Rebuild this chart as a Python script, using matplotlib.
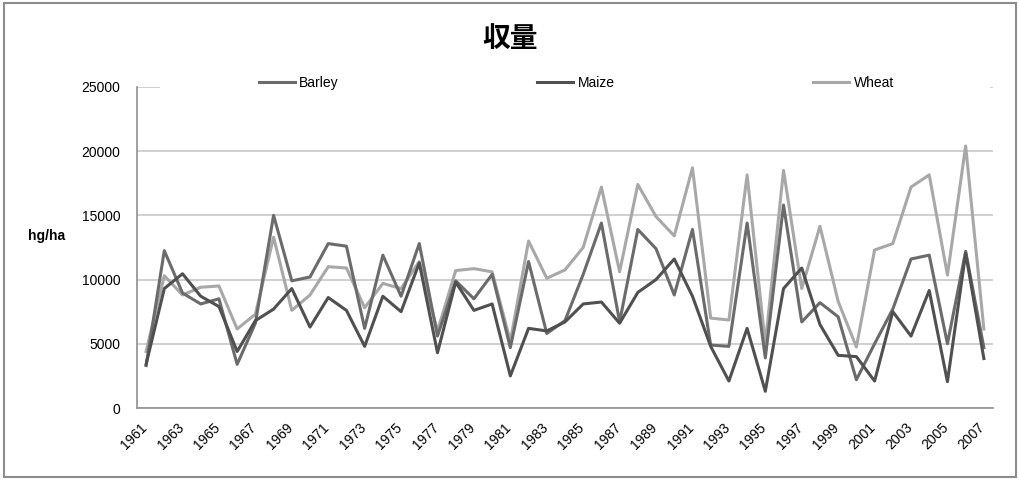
import matplotlib
matplotlib.use('Agg')
import matplotlib.pyplot as plt
import matplotlib.transforms as mtransforms
from matplotlib.patches import Rectangle

plt.rcParams['font.family'] = ['Liberation Sans', 'DejaVu Sans']

years = list(range(1961, 2008))

barley = [3300, 12250, 8950, 8100, 8500, 3400, 6600, 15000, 9900, 10200,
          12800, 12600, 6200, 11900, 8700, 12800, 5600, 9900, 8500, 10400,
          4700, 11400, 5800, 6800, 10400, 14400, 6700, 13900, 12400, 8800,
          13900, 4900, 4800, 14400, 3900, 15800, 6700, 8200, 7100, 2200,
          5000, 7700, 11600, 11900, 5000, 12200, 4700]

maize = [3400, 9300, 10450, 8700, 7900, 4400, 6800, 7700, 9300, 6300,
         8600, 7600, 4800, 8700, 7500, 11300, 4300, 9800, 7600, 8100,
         2500, 6200, 6000, 6700, 8100, 8250, 6600, 9000, 10000, 11600,
         8700, 4800, 2100, 6200, 1300, 9300, 10900, 6500, 4100, 4000,
         2100, 7500, 5600, 9150, 2050, 12050, 3850]

wheat = [4400, 10300, 8800, 9400, 9500, 6150, 7300, 13300, 7600, 8800,
         11000, 10900, 7800, 9700, 9300, 11400, 6000, 10700, 10850, 10600,
         5200, 13000, 10100, 10750, 12500, 17200, 10600, 17400, 14900, 13400,
         18700, 7000, 6850, 18150, 5000, 18500, 9300, 14150, 8300, 4750,
         12300, 12800, 17200, 18150, 10350, 20400, 6150]

yticks = [0, 5000, 10000, 15000, 20000, 25000]

fig = plt.figure(figsize=(10.2, 4.8), dpi=100)
ax = fig.add_axes([0.1343, 0.15, 0.8392, 0.669])

x = list(range(len(years)))
ax.plot(x, barley, color='#6b6b6b', lw=2.2, label='Barley', zorder=3)
ax.plot(x, maize, color='#505050', lw=2.2, label='Maize', zorder=3)
ax.plot(x, wheat, color='#a8a8a8', lw=2.2, label='Wheat', zorder=2)

ax.set_xlim(-0.5, len(years) - 0.5)
ax.set_ylim(0, 25000)
ax.set_yticks(yticks)
ax.set_yticklabels([str(v) for v in yticks], fontsize=10)
ax.yaxis.grid(True, color='#c8c8c8', lw=1.2)
ax.set_axisbelow(True)

ax.set_xticks(x[::2])
ax.set_xticklabels([str(y) for y in years[::2]], rotation=45, ha='right',
                   rotation_mode='anchor', fontsize=10)
ax.tick_params(axis='x', length=0, pad=9)
ax.tick_params(axis='y', length=0, pad=12)
# nudge the rotated year labels a little to the left
shift = mtransforms.ScaledTranslation(-6 / 100, 0, fig.dpi_scale_trans)
for lab in ax.get_xticklabels():
    lab.set_transform(lab.get_transform() + shift)

for s in ['top', 'right']:
    ax.spines[s].set_visible(False)
ax.spines['left'].set_color('#909090')
ax.spines['bottom'].set_color('#909090')
ax.spines['left'].set_linewidth(1.2)
ax.spines['bottom'].set_linewidth(1.2)

ax.set_ylabel('hg/ha', rotation=0, fontsize=10, fontweight='bold', labelpad=0)
ax.yaxis.set_label_coords(-0.106, 0.515)

# white band behind the legend, as in the original (hides the top gridline)
ax.add_patch(Rectangle((160 / 1020, 1 - 95 / 480), 830 / 1020, 16 / 480,
                       transform=fig.transFigure, facecolor='white',
                       edgecolor='none', zorder=2.5, clip_on=False))

leg = fig.legend(loc='center', bbox_to_anchor=(0.565, 0.827), ncol=3,
                 frameon=True, fontsize=10, handlelength=2.6, handletextpad=0.3,
                 columnspacing=14.3, borderpad=0.2)
leg.get_frame().set_facecolor('white')
leg.get_frame().set_edgecolor('white')
leg.get_frame().set_alpha(1)

fig.text(0.5, 0.918, '収量', ha='center', va='center', fontsize=20,
         fontweight='bold', family=['Noto Sans CJK JP', 'DejaVu Sans'])

fig.patches.append(Rectangle((0.004, 0.006), 0.992, 0.988, transform=fig.transFigure,
                             fill=False, edgecolor='#8c8c8c', lw=1.5))

fig.savefig('out.png', dpi=100)
